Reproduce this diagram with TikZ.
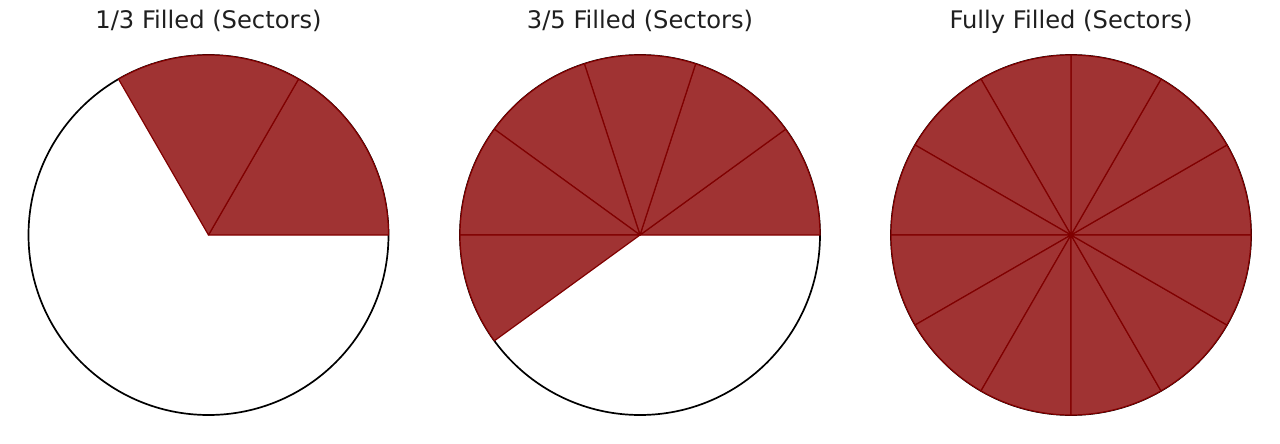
\documentclass[tikz,border=0pt]{standalone}
\usepackage{fontspec}
\setmainfont{DejaVu Sans}
\definecolor{wedgefill}{RGB}{160,51,51}
\definecolor{wedgeedge}{RGB}{128,0,0}
\begin{document}
\begin{tikzpicture}[x=1pt,y=-1pt,
  titletext/.style={font=\fontsize{24.2}{29}\selectfont, text=black!88, anchor=base, inner sep=0pt},
  outline/.style={draw=black, line width=1.7pt, fill=white},
  wedge/.style={fill=wedgefill, draw=wedgeedge, line width=1.2pt, line join=round}]
\useasboundingbox[fill=white] (0,0) rectangle (1280,444);
\def\R{180}
\coordinate (c1) at (208.5,235);
\coordinate (c2) at (640,235);
\coordinate (c3) at (1071,235);
% titles
\node[titletext] (t1) at (208.5,29) {1/3 Filled (Sectors)};
\node[titletext] (t2) at (640,29) {3/5 Filled (Sectors)};
\node[titletext] (t3) at (1071,29) {Fully Filled (Sectors)};
% circle 1
\draw[outline] (c1) circle (\R);
\foreach \a in {0,60} {
  \draw[wedge] (c1) -- ++(-\a:\R) arc[start angle=-\a, end angle=-\a-60, radius=\R] -- cycle;
}
% circle 2
\draw[outline] (c2) circle (\R);
\foreach \a in {0,36,...,180} {
  \draw[wedge] (c2) -- ++(-\a:\R) arc[start angle=-\a, end angle=-\a-36, radius=\R] -- cycle;
}
% circle 3
\draw[outline] (c3) circle (\R);
\foreach \a in {0,30,...,330} {
  \draw[wedge] (c3) -- ++(-\a:\R) arc[start angle=-\a, end angle=-\a-30, radius=\R] -- cycle;
}
\end{tikzpicture}
\end{document}
